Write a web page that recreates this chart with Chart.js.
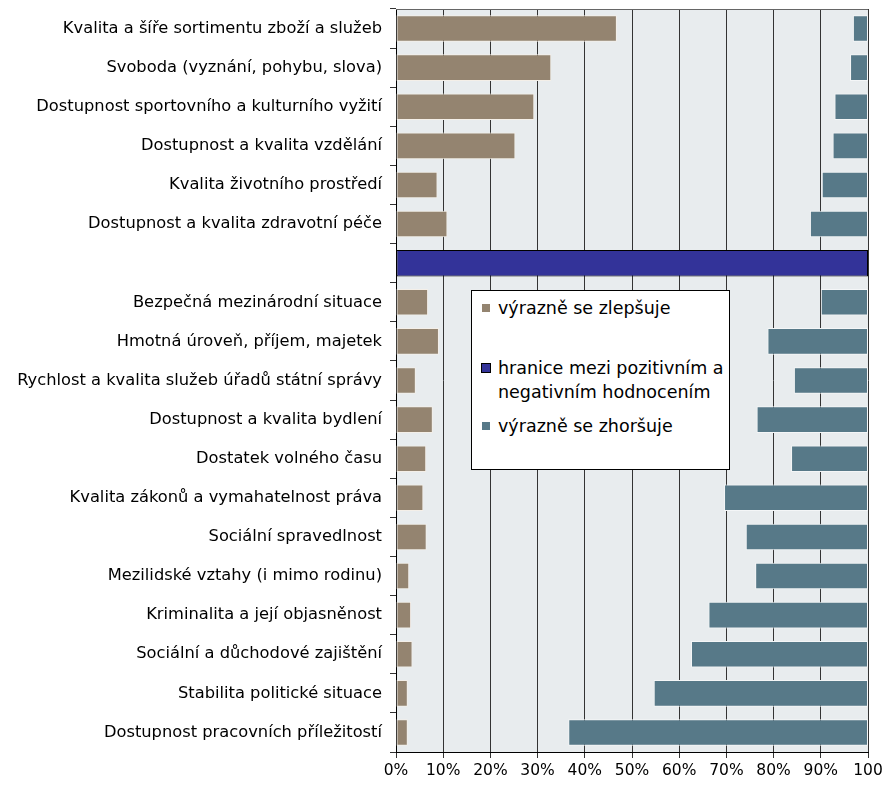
<!DOCTYPE html>
<html>
<head>
<meta charset="utf-8">
<script src="https://cdn.jsdelivr.net/npm/chart.js@4/dist/chart.umd.min.js"></script>
<style>
  body { margin: 0; background: #fff; }
  #wrap { position: relative; width: 895px; height: 785px; }
  #legend {
    position: absolute; left: 471px; top: 290px; width: 257px; height: 178px;
    background: #fff; border: 1px solid #000;
    font-family: "DejaVu Sans", sans-serif; font-size: 17.5px; color: #000;
  }
  .item { position: absolute; left: 26px; line-height: 24px; white-space: nowrap; }
  .sw { position: absolute; left: -16px; top: 8px; width: 8px; height: 8px; }
</style>
</head>
<body>
<div id="wrap">
  <canvas id="chart"></canvas>
  <div id="legend"></div>
</div>
<script>
"use strict";

const FONT = "'DejaVu Sans', sans-serif";

const categories = [
  "Kvalita a šíře sortimentu zboží a služeb",
  "Svoboda (vyznání, pohybu, slova)",
  "Dostupnost sportovního a kulturního vyžití",
  "Dostupnost a kvalita vzdělání",
  "Kvalita životního prostředí",
  "Dostupnost a kvalita zdravotní péče",
  "",
  "Bezpečná mezinárodní situace",
  "Hmotná úroveň, příjem, majetek",
  "Rychlost a kvalita služeb úřadů státní správy",
  "Dostupnost a kvalita bydlení",
  "Dostatek volného času",
  "Kvalita zákonů a vymahatelnost práva",
  "Sociální spravedlnost",
  "Mezilidské vztahy (i mimo rodinu)",
  "Kriminalita a její objasněnost",
  "Sociální a důchodové zajištění",
  "Stabilita politické situace",
  "Dostupnost pracovních příležitostí"
];

// share saying "výrazně se zlepšuje" (drawn from 0)
const improving = [46.8, 32.9, 29.3, 25.3, 8.8, 10.9, null, 6.8, 9.1, 4.2, 7.8, 6.4, 5.8, 6.5, 2.8, 3.2, 3.5, 2.5, 2.5];
// share saying "výrazně se zhoršuje" (drawn back from 100)
const worsening = [3.2, 3.8, 7.1, 7.5, 9.8, 12.3, null, 10.0, 21.3, 15.7, 23.6, 16.3, 30.5, 25.9, 23.9, 33.8, 37.5, 45.4, 63.5];
// divider row between positive and negative items
const divider = [null, null, null, null, null, null, 100, null, null, null, null, null, null, null, null, null, null, null, null];

const xTicks = [0, 10, 20, 30, 40, 50, 60, 70, 80, 90, 100];

const LABEL_IMPROVING = "výrazně se zlepšuje";
const LABEL_DIVIDER = "hranice mezi pozitivním a negativním hodnocením";
const LABEL_WORSENING = "výrazně se zhoršuje";

const COLOR_IMPROVING = "#948470";
const COLOR_DIVIDER = "#333399";
const COLOR_WORSENING = "#577988";

const plotFrame = {
  id: "plotFrame",
  beforeDraw(chart) {
    const { ctx, chartArea: a } = chart;
    ctx.save();
    ctx.fillStyle = "#e8ecee";
    ctx.fillRect(a.left, a.top, a.right - a.left, a.bottom - a.top);
    ctx.restore();
  },
  beforeDatasetsDraw(chart) {
    const { ctx, chartArea: a } = chart;
    ctx.save();
    ctx.strokeStyle = "#666";
    ctx.lineWidth = 1;
    ctx.beginPath();
    ctx.moveTo(a.left, a.top + 0.5);
    ctx.lineTo(a.right, a.top + 0.5);
    ctx.stroke();
    ctx.restore();
  }
};

const chart = new Chart(document.getElementById("chart"), {
  type: "bar",
  data: {
    labels: categories,
    datasets: [
      {
        label: LABEL_IMPROVING,
        data: improving.map((v) => (v == null ? null : [0, v])),
        backgroundColor: COLOR_IMPROVING,
        borderColor: "#f4efe8",
        borderWidth: 1,
        borderSkipped: false,
        grouped: false
      },
      {
        label: LABEL_DIVIDER,
        data: divider.map((v) => (v == null ? null : [0, v])),
        backgroundColor: COLOR_DIVIDER,
        borderColor: "#000",
        borderWidth: 1,
        borderSkipped: false,
        grouped: false
      },
      {
        label: LABEL_WORSENING,
        data: worsening.map((v) => (v == null ? null : [100 - v, 100])),
        backgroundColor: COLOR_WORSENING,
        borderColor: "#f4f6f7",
        borderWidth: 1,
        borderSkipped: false,
        grouped: false
      }
    ]
  },
  options: {
    indexAxis: "y",
    responsive: true,
    maintainAspectRatio: false,
    animation: false,
    layout: { padding: { top: 9, right: 27, left: 0, bottom: 0 } },
    datasets: { bar: { categoryPercentage: 1, barPercentage: 0.68 } },
    plugins: { legend: { display: false }, tooltip: { enabled: false } },
    scales: {
      x: {
        min: 0,
        max: 100,
        afterBuildTicks: (scale) => {
          scale.ticks = xTicks.map((v) => ({ value: v }));
        },
        afterFit: (scale) => { scale.height = 33; },
        ticks: {
          color: "#000",
          font: { family: FONT, size: 15.5 },
          padding: 4,
          maxRotation: 0,
          callback: (v) => (v === 100 ? "100" : v + "%")
        },
        grid: { color: "#333", lineWidth: 1, tickLength: 6, drawOnChartArea: true },
        border: { color: "#000", width: 1 }
      },
      y: {
        afterFit: (scale) => {
          scale.width = 396;
          scale.paddingTop = 0;
          scale.paddingBottom = 0;
        },
        ticks: {
          color: "#000",
          font: { family: FONT, size: 16.3 },
          padding: 8,
          autoSkip: false
        },
        grid: { offset: true, drawOnChartArea: false, tickLength: 6, color: "#333" },
        border: { color: "#000", width: 1 }
      }
    }
  },
  plugins: [plotFrame]
});

// legend box inside the plot, like the original
const legendHTML = document.getElementById("legend");
const legendItems = [
  { text: LABEL_IMPROVING, color: COLOR_IMPROVING, top: 5, border: false },
  { text: "hranice mezi pozitivním a<br>negativním hodnocením", color: COLOR_DIVIDER, top: 65, border: true },
  { text: LABEL_WORSENING, color: COLOR_WORSENING, top: 123, border: false }
];
legendHTML.innerHTML = legendItems
  .map(
    (it) =>
      `<div class="item" style="top:${it.top}px"><span class="sw" style="background:${it.color};${
        it.border ? "border:1px solid #000;width:8px;height:8px;left:-17px;top:7px;" : ""
      }"></span>${it.text}</div>`
  )
  .join("");
</script>
</body>
</html>
